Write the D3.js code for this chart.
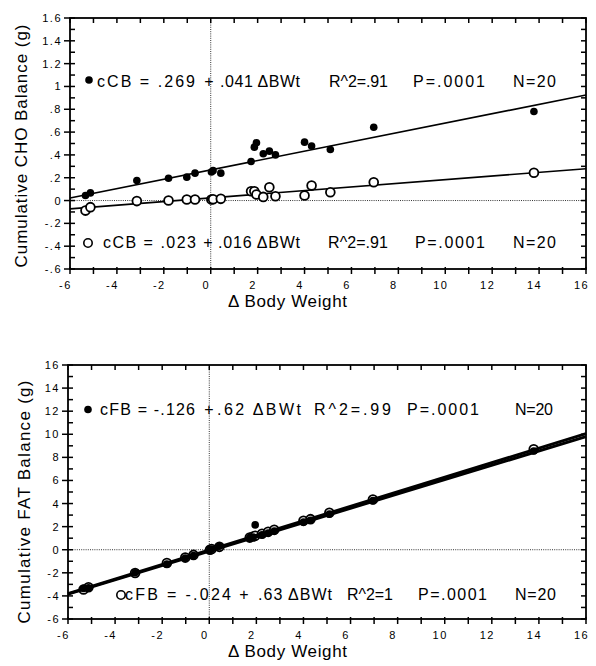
<!DOCTYPE html>
<html>
<head>
<meta charset="utf-8">
<script src="https://cdn.jsdelivr.net/npm/d3@7"></script>
<style>
body { margin: 0; background: #fff; }
svg { display: block; }
text { font-family: "Liberation Sans", Arial, Helvetica, sans-serif; fill: #000; }
</style>
</head>
<body>
<svg id="chart" width="596" height="666"></svg>
<script>
// change in body weight per subject (same x for every series)
var bodyWeight = [-5.34, -5.13, -3.15, -1.80, -1.02, -0.67, 0.03, 0.10, 0.43, 1.72,
                  1.86, 1.95, 2.24, 2.50, 2.76, 4.00, 4.30, 5.10, 6.95, 13.78];

// cumulative CHO balance, filled and open symbols
var choFilled = [0.044, 0.067, 0.175, 0.196, 0.205, 0.240, 0.250, 0.262, 0.240, 0.342,
                 0.468, 0.506, 0.410, 0.433, 0.400, 0.512, 0.477, 0.448, 0.642, 0.780];
var choOpen = [-0.088, -0.058, -0.005, 0.000, 0.009, 0.009, 0.009, 0.012, 0.015, 0.082,
               0.082, 0.053, 0.032, 0.117, 0.037, 0.044, 0.131, 0.073, 0.161, 0.243];

// cumulative FAT balance, filled and open symbols
var fatFilled = [-3.35, -3.30, -2.00, -1.25, -0.72, -0.50, 0.02, 0.05, 0.30, 1.05,
                 1.10, 2.15, 1.30, 1.45, 1.62, 2.40, 2.55, 3.10, 4.25, 8.55];
var fatOpen = [-3.45, -3.25, -2.02, -1.15, -0.68, -0.45, 0.00, 0.06, 0.25, 1.05,
               1.15, 1.20, 1.38, 1.55, 1.72, 2.50, 2.65, 3.20, 4.35, 8.70];

// fitted lines as printed on the chart: [intercept, slope]
var choFits = [[0.269, 0.041], [0.023, 0.016]];
var fatFits = [[-0.126, 0.62], [-0.024, 0.63]];

var xTickValues = [-6, -4, -2, 0, 2, 4, 6, 8, 10, 12, 14, 16];
var xTickLabels = ["-6", "-4", "-2", "0", "2", "4", "6", "8", "10", "12", "14", "16"];
var choTickValues = [-0.6, -0.4, -0.2, 0, 0.2, 0.4, 0.6, 0.8, 1, 1.2, 1.4, 1.6];
var choTickLabels = ["-.6", "-.4", "-.2", "0", ".2", ".4", ".6", ".8", "1", "1.2", "1.4", "1.6"];
var fatTickValues = [-6, -4, -2, 0, 2, 4, 6, 8, 10, 12, 14, 16];
var fatTickLabels = ["-6", "-4", "-2", "0", "2", "4", "6", "8", "10", "12", "14", "16"];

var svg = d3.select("#chart");

function drawPanel(p) {
    var x = d3.scaleLinear().domain([-6, 16]).range([p.left, p.right]);
    var y = d3.scaleLinear().domain([p.yTicks[0], p.yTicks[p.yTicks.length - 1]]).range([p.bottom, p.top]);
    var g = svg.append("g");

    // dotted zero lines
    g.append("line")
        .attr("x1", x(0)).attr("x2", x(0)).attr("y1", p.top).attr("y2", p.bottom)
        .attr("stroke", "#333").attr("stroke-width", 1).attr("stroke-dasharray", "1,1.2");
    g.append("line")
        .attr("x1", p.left).attr("x2", p.right).attr("y1", y(0)).attr("y2", y(0))
        .attr("stroke", "#333").attr("stroke-width", 1).attr("stroke-dasharray", "1,1.2");

    var yMinor = d3.range(0, Math.round((y.domain()[1] - y.domain()[0]) / p.yMinorStep) + 1)
        .map(function (i) { return y.domain()[0] + i * p.yMinorStep; });
    var xMinor = d3.range(-6, 17, 1);

    // tick marks on all four sides
    var tickMarks = [];
    p.yTicks.forEach(function (v) { tickMarks.push({ y: y(v), x1: p.left - 6, x2: p.left }); });
    yMinor.forEach(function (v) {
        tickMarks.push({ y: y(v), x1: p.left, x2: p.left + 5 });
        tickMarks.push({ y: y(v), x1: p.right - 5, x2: p.right });
    });
    xMinor.forEach(function (v) {
        tickMarks.push({ x: x(v), y1: p.top, y2: p.top + 5 });
        tickMarks.push({ x: x(v), y1: p.bottom - 2, y2: p.bottom + 5 });
    });
    g.append("g").selectAll("line")
        .data(tickMarks)
        .join("line")
        .attr("x1", function (d) { return d.x !== undefined ? d.x : d.x1; })
        .attr("x2", function (d) { return d.x !== undefined ? d.x : d.x2; })
        .attr("y1", function (d) { return d.y !== undefined ? d.y : d.y1; })
        .attr("y2", function (d) { return d.y !== undefined ? d.y : d.y2; })
        .attr("stroke", "#000").attr("stroke-width", 1.5);

    // tick labels through d3 axes
    g.append("g").attr("transform", "translate(" + p.left + ",0)")
        .call(d3.axisLeft(y).tickValues(p.yTicks).tickSize(0).tickPadding(8)
            .tickFormat(function (d, i) { return p.yLabels[i]; }))
        .call(function (a) {
            a.selectAll(".domain, .tick line").remove();
            a.selectAll("text").style("font-size", "11px").style("letter-spacing", "1.5px");
        });
    g.append("g").attr("transform", "translate(0," + p.bottom + ")")
        .call(d3.axisBottom(x).tickValues(xTickValues).tickSize(0)
            .tickFormat(function (d, i) { return xTickLabels[i]; }))
        .call(function (a) {
            a.selectAll(".domain, .tick line").remove();
            a.selectAll("text").attr("y", 20).attr("dy", null).attr("dx", -5)
                .style("font-size", "11px").style("letter-spacing", "1.5px");
        });

    // frame
    g.append("rect")
        .attr("x", p.left).attr("y", p.top)
        .attr("width", p.right - p.left).attr("height", p.bottom - p.top)
        .attr("fill", "none").attr("stroke", "#000").attr("stroke-width", 1.8);

    var fitLine = d3.line().x(function (d) { return x(d[0]); }).y(function (d) { return y(d[1]); });
    function drawFits() {
        p.fits.forEach(function (f) {
            g.append("path")
                .datum(x.domain().map(function (v) { return [v, f[0] + f[1] * v]; }))
                .attr("d", fitLine).attr("fill", "none")
                .attr("stroke", "#000").attr("stroke-width", p.fitWidth);
        });
    }
    if (!p.fitsOnTop) drawFits();

    g.append("g").selectAll("circle")
        .data(d3.zip(bodyWeight, p.open))
        .join("circle")
        .attr("cx", function (d) { return x(d[0]); })
        .attr("cy", function (d) { return y(d[1]); })
        .attr("r", 4.4).attr("fill", "#fff").attr("stroke", "#000").attr("stroke-width", 1.8);
    g.append("g").selectAll("circle")
        .data(d3.zip(bodyWeight, p.filled))
        .join("circle")
        .attr("cx", function (d) { return x(d[0]); })
        .attr("cy", function (d) { return y(d[1]); })
        .attr("r", 3.8).attr("fill", "#000");

    if (p.fitsOnTop) drawFits();

    // equation rows
    p.notes.forEach(function (row) {
        if (row.marker === "filled") {
            g.append("circle").attr("cx", row.mx).attr("cy", row.my).attr("r", 3.8).attr("fill", "#000");
        } else {
            g.append("circle").attr("cx", row.mx).attr("cy", row.my).attr("r", 4.2)
                .attr("fill", "none").attr("stroke", "#000").attr("stroke-width", 1.6);
        }
        row.parts.forEach(function (s) {
            var t = g.append("text")
                .attr("x", s[0]).attr("y", row.base)
                .style("font-size", "16px")
                .text(s[2]);
            if (s[1] === null) {
                t.attr("text-anchor", "middle");
            } else {
                t.attr("textLength", s[1] - s[0]).attr("lengthAdjust", "spacing");
            }
        });
    });

    // axis titles
    g.append("text")
        .attr("transform", "translate(" + p.titleX + "," + p.titleY + ") rotate(-90)")
        .attr("text-anchor", "middle")
        .attr("textLength", 243).attr("lengthAdjust", "spacing")
        .style("font-size", "17px")
        .text(p.title);
    g.append("text")
        .attr("x", 228).attr("y", p.bottom + 38)
        .attr("textLength", 119).attr("lengthAdjust", "spacing")
        .style("font-size", "17px")
        .text("\u0394 Body Weight");
}

drawPanel({
    left: 70, right: 586, top: 18, bottom: 269,
    yTicks: choTickValues, yLabels: choTickLabels, yMinorStep: 0.1,
    filled: choFilled, open: choOpen, fits: choFits, fitWidth: 1.6, fitsOnTop: false,
    title: "Cumulative CHO Balance (g)", titleX: 27, titleY: 146,
    notes: [
        { marker: "filled", mx: 89, my: 80, base: 87, parts: [
            [97, 195, "cCB = .269"], [209, null, "+"], [220, 300, ".041 \u0394BWt"],
            [329, 388, "R^2=.91"], [413, 485, "P=.0001"], [513, 556, "N=20"]] },
        { marker: "open", mx: 88, my: 243, base: 248, parts: [
            [103, 196, "cCB = .023"], [208, null, "+"], [218, 300, ".016 \u0394BWt"],
            [328, 388, "R^2=.91"], [415, 485, "P=.0001"], [513, 556, "N=20"]] }
    ]
});

drawPanel({
    left: 68, right: 586, top: 365, bottom: 619,
    yTicks: fatTickValues, yLabels: fatTickLabels, yMinorStep: 1,
    filled: fatFilled, open: fatOpen, fits: fatFits, fitWidth: 3, fitsOnTop: true,
    title: "Cumulative FAT Balance (g)", titleX: 30, titleY: 502,
    notes: [
        { marker: "filled", mx: 88, my: 409.5, base: 415, parts: [
            [100, 195, "cFB = -.126"], [209, null, "+"], [217, 301, ".62 \u0394BWt"],
            [314, 391, "R^2=.99"], [407, 479, "P=.0001"], [515, 553, "N=20"]] },
        { marker: "open", mx: 121, my: 595, base: 600, parts: [
            [125, 231, "cFB = -.024"], [244, null, "+"], [258, 332, ".63 \u0394BWt"],
            [347, 393, "R^2=1"], [418, 487, "P=.0001"], [515, 556, "N=20"]] }
    ]
});
</script>
</body>
</html>
